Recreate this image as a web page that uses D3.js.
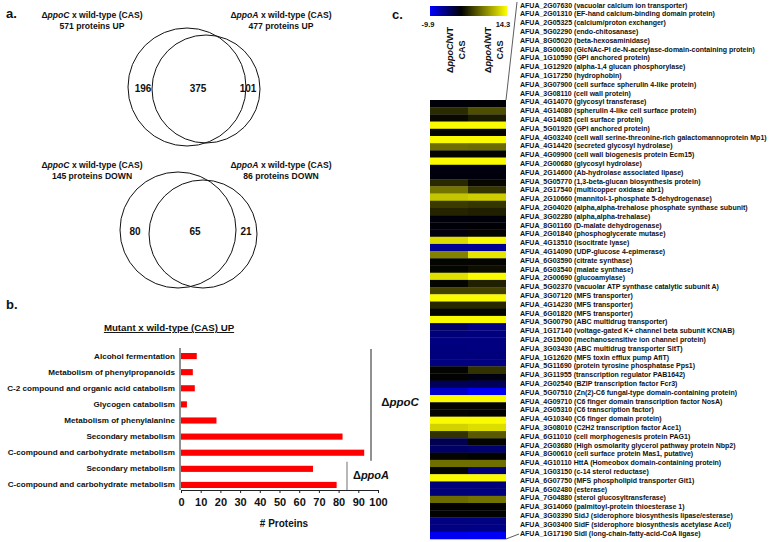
<!DOCTYPE html>
<html><head><meta charset="utf-8">
<script src="https://cdn.jsdelivr.net/npm/d3@7/dist/d3.min.js"></script>
<style>
body{margin:0;background:#fff}
text{font-family:"Liberation Sans",Arial,sans-serif;font-weight:bold;fill:#111}
</style>
</head><body>
<svg id="chart" width="775" height="542"></svg>
<script>
// ---------- Panel a: Venn data ----------
const vennUpCounts = [196, 375, 101];
const vennDownCounts = [80, 65, 21];
const vennUpTotals = [571, 477];
const vennDownTotals = [145, 86];
const vennMutants = ["ppoC", "ppoA"];

// ---------- Panel b: bar data ----------
const barCategories = [
  "Alcohol fermentation",
  "Metabolism of phenylpropanoids",
  "C-2 compound and organic acid catabolism",
  "Glycogen catabolism",
  "Metabolism of phenylalanine",
  "Secondary metabolism",
  "C-compound and carbohydrate metabolism",
  "Secondary metabolism ",
  "C-compound and carbohydrate metabolism "
];
const barValues = [8, 6, 7, 3, 18, 82, 93, 67, 79];
const barTicks = [0,10,20,30,40,50,60,70,80,90,100];

// ---------- Panel c: heatmap data ----------
const heatGenes = [
"AFUA_2G07630 (vacuolar calcium ion transporter)",
"AFUA_2G01310 (EF-hand calcium-binding domain protein)",
"AFUA_2G05325 (calcium/proton exchanger)",
"AFUA_5G02290 (endo-chitosanase)",
"AFUA_8G05020 (beta-hexosaminidase)",
"AFUA_8G00630 (GlcNAc-PI de-N-acetylase-domain-containing protein)",
"AFUA_1G10590 (GPI anchored protein)",
"AFUA_1G12920 (alpha-1,4 glucan phosphorylase)",
"AFUA_1G17250 (hydrophobin)",
"AFUA_3G07900 (cell surface spherulin 4-like protein)",
"AFUA_3G08110 (cell wall protein)",
"AFUA_4G14070 (glycosyl transferase)",
"AFUA_4G14080 (spherulin 4-like cell surface protein)",
"AFUA_4G14085 (cell surface protein)",
"AFUA_5G01920 (GPI anchored protein)",
"AFUA_4G03240 (cell wall serine-threonine-rich galactomannoprotein Mp1)",
"AFUA_4G14420 (secreted glycosyl hydrolase)",
"AFUA_4G09900 (cell wall biogenesis protein Ecm15)",
"AFUA_2G00680 (glycosyl hydrolase)",
"AFUA_2G14600 (Ab-hydrolase associated lipase)",
"AFUA_5G05770 (1,3-beta-glucan biosynthesis protein)",
"AFUA_2G17540 (multicopper oxidase abr1)",
"AFUA_2G10660 (mannitol-1-phosphate 5-dehydrogenase)",
"AFUA_2G04020 (alpha,alpha-trehalose phosphate synthase subunit)",
"AFUA_3G02280 (alpha,alpha-trehalase)",
"AFUA_8G01160 (D-malate dehydrogenase)",
"AFUA_2G01840 (phosphoglycerate mutase)",
"AFUA_4G13510 (isocitrate lyase)",
"AFUA_4G14090 (UDP-glucose 4-epimerase)",
"AFUA_6G03590 (citrate synthase)",
"AFUA_6G03540 (malate synthase)",
"AFUA_2G00690 (glucoamylase)",
"AFUA_5G02370 (vacuolar ATP synthase catalytic subunit A)",
"AFUA_3G07120 (MFS transporter)",
"AFUA_4G14230 (MFS transporter)",
"AFUA_6G01820 (MFS transporter)",
"AFUA_5G00790 (ABC multidrug transporter)",
"AFUA_1G17140 (voltage-gated K+ channel beta subunit KCNAB)",
"AFUA_2G15000 (mechanosensitive ion channel protein)",
"AFUA_3G03430 (ABC multidrug transporter SitT)",
"AFUA_1G12620 (MFS toxin efflux pump AflT)",
"AFUA_5G11690 (protein tyrosine phosphatase Pps1)",
"AFUA_3G11955 (transcription regulator PAB1642)",
"AFUA_2G02540 (BZIP transcription factor Fcr3)",
"AFUA_5G07510 (Zn(2)-C6 fungal-type domain-containing protein)",
"AFUA_4G09710 (C6 finger domain transcription factor NosA)",
"AFUA_2G05310 (C6 transcription factor)",
"AFUA_4G10340 (C6 finger domain protein)",
"AFUA_3G08010 (C2H2 transcription factor Ace1)",
"AFUA_6G11010 (cell morphogenesis protein PAG1)",
"AFUA_2G03680 (High osmolarity glycerol pathway protein Nbp2)",
"AFUA_8G00610 (cell surface protein Mas1, putative)",
"AFUA_4G10110 HttA (Homeobox domain-containing protein)",
"AFUA_1G03150 (c-14 sterol reductase)",
"AFUA_6G07750 (MFS phospholipid transporter Git1)",
"AFUA_6G02480 (esterase)",
"AFUA_7G04880 (sterol glucosyltransferase)",
"AFUA_3G14060 (palmitoyl-protein thioesterase 1)",
"AFUA_3G03390 SidJ (siderophore biosynthesis lipase/esterase)",
"AFUA_3G03400 SidF (siderophore biosynthesis acetylase AceI)",
"AFUA_1G17190 SidI (long-chain-fatty-acid-CoA ligase)"
];
const heatPpoC = [-0.3,2.4,0.5,14,0.2,14,6.2,0.3,14,-0.6,
  -0.5,2.3,6.5,11,3.3,2.0,-0.5,-0.3,-0.6,12.3,
  -5.8,7.3,0.2,0.3,12.5,0.3,3.8,14,2.2,0.3,
  14,-3.9,-4.7,-5.0,-4.8,-4.8,-5.0,0.2,0.1,-3.5,
  -7.8,14,0.2,0.2,14,11.8,2.8,-3.1,-3.9,0.2,
  6.2,0.2,14,-4.7,-4.7,6.0,0.1,0.1,-5.0,-5.0,-9.3];
const heatPpoA = [-0.2,4.4,1.5,14,0.2,14,6.0,0.3,14,-0.6,
  -0.5,0.4,3.0,11.5,3.0,1.8,-0.4,-0.2,0.2,14,
  -5.8,12.9,0.2,0.8,14,1.8,3.8,14,2.2,0.2,
  14,-5.0,-4.9,-5.0,-5.0,-4.8,-5.0,2.8,-0.8,-3.5,
  -9.5,14,0.2,0.1,14,12.4,5.0,0.2,-4.3,0.1,
  6.2,-4.7,14,-4.7,-4.9,6.4,0.1,0.1,-5.1,-5.2,-9.6];
const heatColumns = ["ppoC", "ppoA"];
const heatRange = [-9.9, 0, 14.3];

const svg = d3.select("#chart");

function titleText(g, x, y, mutant, rest, size) {
  const t = g.append("text").attr("x", x).attr("y", y)
    .attr("text-anchor", "middle").style("font-size", size + "px");
  t.append("tspan").text("\u0394");
  t.append("tspan").style("font-style", "italic").text(mutant);
  t.append("tspan").text(rest);
  return t;
}

// ---------- Panel a ----------
svg.append("text").attr("x", 6).attr("y", 18).style("font-size", "13px").text("a.");

function venn(cy0, counts, totals, word, geo) {
  const g = svg.append("g");
  titleText(g, 92, cy0, vennMutants[0], " x wild-type (CAS)", 8.6);
  g.append("text").attr("x", 92).attr("y", cy0 + 10.5).attr("text-anchor", "middle")
    .style("font-size", "8.6px").text(totals[0] + " proteins " + word);
  titleText(g, 281, cy0, vennMutants[1], " x wild-type (CAS)", 8.6);
  g.append("text").attr("x", 281).attr("y", cy0 + 10.5).attr("text-anchor", "middle")
    .style("font-size", "8.6px").text(totals[1] + " proteins " + word);
  geo.circles.forEach(c => g.append("circle").attr("cx", c[0]).attr("cy", c[1]).attr("r", c[2])
    .attr("fill", "none").attr("stroke", "#111").attr("stroke-width", 1));
  counts.forEach((v, i) => g.append("text").attr("x", geo.labelX[i]).attr("y", geo.labelY)
    .attr("text-anchor", "middle").attr("dominant-baseline", "central")
    .style("font-size", "10px").text(v));
}
venn(18, vennUpCounts, vennUpTotals, "UP",
  {circles: [[187, 87, 59], [206, 89, 54]], labelX: [143, 198, 248], labelY: 88});
venn(168, vennDownCounts, vennDownTotals, "DOWN",
  {circles: [[178, 230, 58], [203, 234, 54]], labelX: [135, 195, 246], labelY: 231});

// ---------- Panel b ----------
svg.append("text").attr("x", 6).attr("y", 309).style("font-size", "13px").text("b.");
svg.append("text").attr("x", 169).attr("y", 331).attr("text-anchor", "middle")
  .style("font-size", "9.7px").attr("text-decoration", "underline")
  .text("Mutant x wild-type (CAS) UP");

const xb = d3.scaleLinear().domain([0, 100]).range([181, 378]);
const yb = d3.scaleBand().domain(d3.range(barCategories.length)).range([348, 493]).paddingInner(0.62).paddingOuter(0.31);

svg.append("g").selectAll("rect").data(barValues).join("rect")
  .attr("x", xb(0)).attr("y", (d, i) => yb(i))
  .attr("width", d => xb(d) - xb(0)).attr("height", yb.bandwidth())
  .attr("fill", "#ff0000");

svg.append("g").selectAll("text").data(barCategories).join("text")
  .attr("x", 175).attr("y", (d, i) => yb(i) + yb.bandwidth() / 2)
  .attr("text-anchor", "end").attr("dominant-baseline", "central")
  .style("font-size", "8.1px").text(d => d.trim());

svg.append("line").attr("x1", 180).attr("x2", 180).attr("y1", 348).attr("y2", 490)
  .attr("stroke", "#222").attr("stroke-width", 1);

const xAxis = svg.append("g").attr("transform", "translate(0,490)")
  .call(d3.axisBottom(xb).tickValues(barTicks).tickSizeInner(3).tickSizeOuter(0).tickPadding(5));
xAxis.select(".domain").attr("stroke", "#222").attr("stroke-width", 1.2);
xAxis.selectAll(".tick line").attr("stroke", "#222");
xAxis.selectAll(".tick text").style("font-size", "11px").style("font-family", "Liberation Sans, Arial, sans-serif").style("font-weight", "bold").attr("fill", "#111");
svg.append("text").attr("x", 284).attr("y", 527).attr("text-anchor", "middle")
  .style("font-size", "10px").text("# Proteins");

// group brackets
svg.append("line").attr("x1", 371).attr("x2", 371).attr("y1", yb(0) - 4).attr("y2", yb(6) + yb.bandwidth() + 5)
  .attr("stroke", "#222").attr("stroke-width", 1);
titleText(svg, 400, 406, "ppoC", "", 11.5);
svg.append("line").attr("x1", 347).attr("x2", 347).attr("y1", yb(7) - 4).attr("y2", yb(8) + yb.bandwidth() + 2)
  .attr("stroke", "#888").attr("stroke-width", 1.2);
titleText(svg, 371, 479, "ppoA", "", 11);

// ---------- Panel c ----------
svg.append("text").attr("x", 392).attr("y", 19).style("font-size", "13px").text("c.");
const color = d3.scaleLinear().domain(heatRange).range(["#0000ff", "#000000", "#ffff00"]).clamp(true);

// color bar
const defs = svg.append("defs");
const grad = defs.append("linearGradient").attr("id", "cbar");
d3.range(0, 1.0001, 0.05).forEach(t => {
  const v = heatRange[0] + t * (heatRange[2] - heatRange[0]);
  grad.append("stop").attr("offset", t).attr("stop-color", color(v));
});
svg.append("rect").attr("x", 430).attr("y", 6).attr("width", 77).attr("height", 10).attr("fill", "url(#cbar)");
svg.append("text").attr("x", 428).attr("y", 27).attr("text-anchor", "middle").style("font-size", "7.5px").text(heatRange[0]);
svg.append("text").attr("x", 503).attr("y", 27).attr("text-anchor", "middle").style("font-size", "7.5px").text(heatRange[2]);

const xc = d3.scaleBand().domain(heatColumns).range([430, 506]);
const yc = d3.scaleBand().domain(heatGenes).range([100, 539]);
const cells = [];
heatGenes.forEach((g, i) => {
  cells.push({gene: g, col: heatColumns[0], v: heatPpoC[i]});
  cells.push({gene: g, col: heatColumns[1], v: heatPpoA[i]});
});
svg.append("g").selectAll("rect").data(cells).join("rect")
  .attr("x", d => xc(d.col)).attr("y", d => yc(d.gene))
  .attr("width", xc.bandwidth()).attr("height", yc.bandwidth() + 0.3)
  .attr("fill", d => color(d.v));

// column headers (rotated)
heatColumns.forEach((c, i) => {
  const cx = xc(c) + xc.bandwidth() / 2;
  const g = svg.append("g").attr("transform", `translate(${cx + 4},50) rotate(-90)`);
  const t = g.append("text").attr("x", 0).attr("y", 0).attr("text-anchor", "middle").style("font-size", "9px");
  t.append("tspan").text("\u0394");
  t.append("tspan").style("font-style", "italic").text(c);
  t.append("tspan").text("/WT");
  g.append("text").attr("x", 0).attr("y", 12).attr("text-anchor", "middle").style("font-size", "9px").text("CAS");
});

// labels
const yl = d3.scalePoint().domain(heatGenes).range([5, 533]);
svg.append("g").selectAll("text").data(heatGenes).join("text")
  .attr("x", 520).attr("y", d => yl(d)).attr("dominant-baseline", "central")
  .style("font-size", "7px").text(d => d);

svg.append("line").attr("x1", 506).attr("y1", 100).attr("x2", 517).attr("y2", 2).attr("stroke", "#333").attr("stroke-width", 0.8);
svg.append("line").attr("x1", 506).attr("y1", 539).attr("x2", 519).attr("y2", 534).attr("stroke", "#333").attr("stroke-width", 0.8);
</script>
</body></html>
